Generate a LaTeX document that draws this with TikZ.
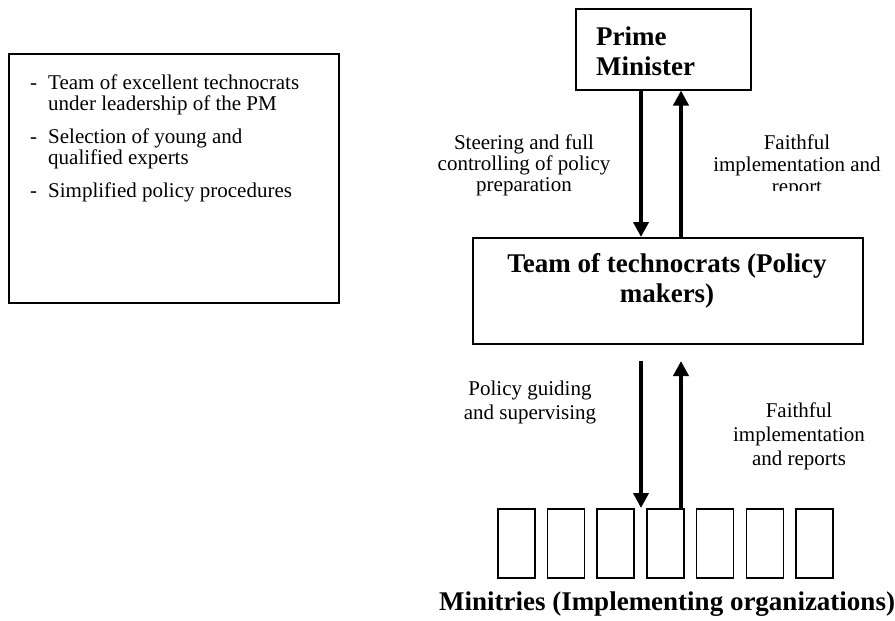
\documentclass[tikz,border=0pt]{standalone}
\usepackage{fontspec}
\setmainfont{Liberation Serif}
\usetikzlibrary{arrows.meta}
\begin{document}
\begin{tikzpicture}[x=1pt,y=-1pt,
  reg/.style={font=\fontsize{21}{24}\selectfont, inner sep=0pt, align=center},
  tight/.style={font=\fontsize{21}{21}\selectfont, inner sep=0pt, align=center},
  lst/.style={font=\fontsize{21}{21}\selectfont, inner sep=0pt, align=left},
  bld/.style={font=\fontsize{27}{30}\selectfont\bfseries, inner sep=0pt, align=center},
  box/.style={draw, line width=1.5pt, inner sep=0pt},
  arr/.style={line width=4.5pt, -{Triangle[width=15pt,length=15pt]}},
  ]
\useasboundingbox (0,0) rectangle (895,621);
% left notes box
\node[box, line width=2pt, minimum width=330pt, minimum height=249pt, anchor=north west] (notes) at (8,53) {};
\node[lst, anchor=base west] (d1) at (30,89) {-};
\node[lst, anchor=base west] (i1) at (48,110) {Team of excellent technocrats\\under leadership of the PM};
\node[lst, anchor=base west] (d2) at (30,143) {-};
\node[lst, anchor=base west] (i2) at (48,164) {Selection of young and\\qualified experts};
\node[lst, anchor=base west] (d3) at (30,197) {-};
\node[lst, anchor=base west] (i3) at (48,197) {Simplified policy procedures};
% Prime minister
\node[box, minimum width=175pt, minimum height=81pt, anchor=north west] (pm) at (575,8) {};
\node[bld, align=left, anchor=base west] (pmtext) at (596,75) {Prime\\Minister};
% team
\node[box, minimum width=390pt, minimum height=106pt, anchor=north west] (team) at (472,237) {};
\node[bld, anchor=base] (teamtext) at (667,302) {Team of technocrats (Policy\\makers)};
% ministries
\foreach \i in {0,...,6}{
  \node[box, minimum width=37pt, minimum height=69pt, anchor=north west] (m\i) at ({497+49.7*\i},508) {};
}
\node[bld, anchor=base] (mintext) at (667,610) {Minitries (Implementing organizations)};
% arrows
\draw[arr] (641,0 |- pm.south) -- (641,0 |- team.north);
\draw[arr] (681,0 |- team.north) -- (681,0 |- pm.south);
\coordinate (lowtop1) at (641,361);
\coordinate (lowtop2) at (681,361);
\draw[arr] (lowtop1) -- (641,0 |- m3.north);
\draw[arr] (681,0 |- m3.north) -- (lowtop2);
% labels
\node[tight, anchor=base] (lab1) at (524,191) {Steering and full\\controlling of policy\\preparation};
\begin{scope}
\clip (700,100) rectangle (895,190);
\node[tight, font=\fontsize{21}{22}\selectfont, anchor=base] (lab2) at (797,193) {Faithful\\implementation and\\report};
\end{scope}
\node[reg, anchor=base] (lab3) at (530,419) {Policy guiding\\and supervising};
\node[reg, anchor=base] (lab4) at (799,465) {Faithful\\implementation\\and reports};
\end{tikzpicture}
\end{document}
